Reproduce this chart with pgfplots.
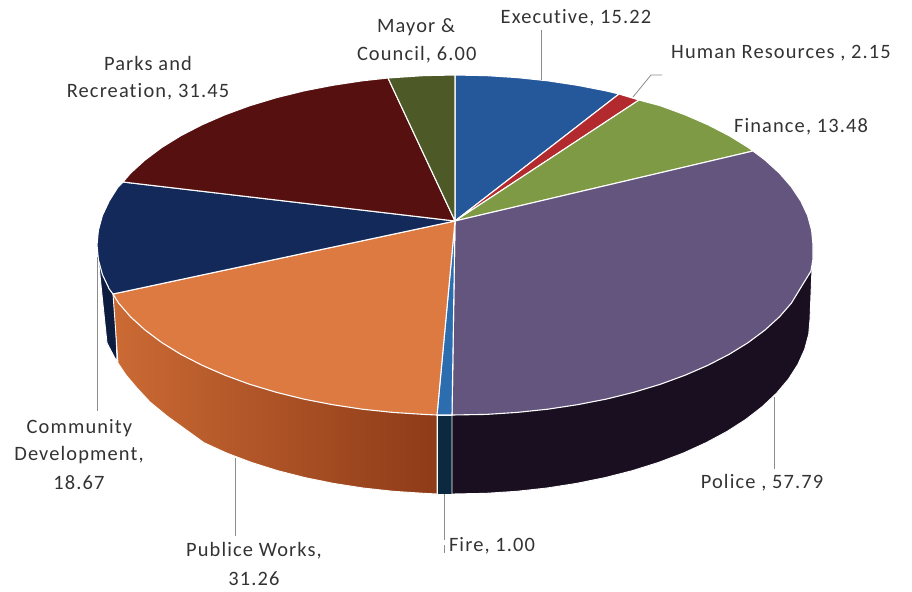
\documentclass[border=0pt]{standalone}
\usepackage{pgfplots}
\pgfplotsset{compat=1.18}
\usepackage{fontspec}
\setmainfont[LetterSpace=5.5,Ligatures=NoCommon]{Carlito}
\definecolor{cExec}{HTML}{25589A}
\definecolor{cHR}{HTML}{B32A2E}
\definecolor{cFin}{HTML}{7F9A44}
\definecolor{cPol}{HTML}{64557F}
\definecolor{cFire}{HTML}{2C6DB0}
\definecolor{cPub}{HTML}{DC7A42}
\definecolor{cCom}{HTML}{13295A}
\definecolor{cPar}{HTML}{561010}
\definecolor{cMay}{HTML}{4D5A27}
\definecolor{cPolS}{HTML}{190F20}
\definecolor{cFireS}{HTML}{0B2A40}
\definecolor{cPubL}{HTML}{CB6A34}
\definecolor{cPubR}{HTML}{8E3B18}
\definecolor{lead}{HTML}{8C8C8C}
\definecolor{txt}{HTML}{333333}
\tikzset{
  lab/.style={font=\fontsize{20.5}{24}\selectfont, text=txt, align=center, inner sep=0pt},
  slice/.style={draw=white, line width=1.1pt, line join=round},
  side/.style={draw=white, line width=0.9pt, line join=round},
  leader/.style={draw=lead, line width=0.8pt},
}
\begin{document}
\begin{tikzpicture}
\begin{axis}[
  scale only axis, width=912bp, height=592bp,
  xmin=0, xmax=912, ymin=0, ymax=592, y dir=reverse,
  hide axis, clip=false,
]
\path (axis cs:0,0) rectangle (axis cs:912,592);
% sides
\addplot[side, fill=cCom!70!black] coordinates {(97,245)(101,285)(107,343)(117,362)(115,300)(113,294)(97,245)};
\addplot[side, left color=cPubL, right color=cPubR] coordinates {(437,415)(113,294)(118,363)(126,375)(137,388)(150,402)(167,416)(185,429)(204,442.7)(226.8,453.1)(251.4,462.4)(277.5,470.6)(305,477.6)(333.6,483.4)(363.1,488)(393.4,491.3)(424,493.3)(437,494)(437,415)};
\addplot[side, fill=cFireS] coordinates {(437,415)(437,494)(452,494)(452,415)(437,415)};
\addplot[side, fill=cPolS] coordinates {(452,415)(452,494)(486,493.3)(516.6,491.3)(546.9,488)(576.4,483.4)(605,477.6)(632.5,470.6)(658.6,462.4)(683.2,453.1)(706,442.7)(726.9,431.5)(745.8,419.4)(762.4,406.5)(776.7,393)(788.6,378.9)(797.9,364.3)(804.6,349.4)(808.7,334.3)(810,319)(812,268)(452,415)};
% top surface
\addplot[slice, fill=cExec] coordinates {(455,221)(455,75)(486.2,75.6)(517.2,77.6)(547.7,80.8)(577.4,85.3)(606.3,90.9)(619,94)(455,221)};
\addplot[slice, fill=cHR] coordinates {(455,221)(619,94)(639,100)(455,221)};
\addplot[slice, fill=cFin] coordinates {(455,221)(639,100)(660.3,105.7)(685.1,114.8)(708.1,124.8)(729.2,135.7)(748.3,147.5)(753,151)(455,221)};
\addplot[slice, fill=cPol] coordinates {(455,221)(753,151)(765,160)(779.5,173.2)(791.4,186.9)(800.8,201)(807.6,215.5)(811.6,230.2)(813,245)(813,259)(811,271)(803,284)(791.4,303.1)(779.5,316.8)(765,330)(748.3,342.5)(729.2,354.3)(708.1,365.2)(685.1,375.2)(660.3,384.3)(634,392.2)(606.3,399.1)(577.4,404.7)(547.7,409.2)(517.2,412.4)(486.2,414.4)(452,415)(455,221)};
\addplot[slice, fill=cFire] coordinates {(455,221)(452,415)(437,415)(455,221)};
\addplot[slice, fill=cPub] coordinates {(455,221)(437,415)(423.8,414.4)(392.8,412.4)(362.3,409.2)(332.6,404.7)(303.7,399.1)(276,392.2)(249.7,384.3)(224.9,375.2)(201.9,365.2)(180.8,354.3)(161.7,342.5)(145,330)(130.5,316.8)(118.6,303.1)(113,294)(455,221)};
\addplot[slice, fill=cCom] coordinates {(455,221)(113,294)(109.2,289)(102.4,274.5)(98.4,259.8)(97,245)(98.4,230.2)(102.4,215.5)(109.2,201)(118,187)(123,182)(455,221)};
\addplot[slice, fill=cPar] coordinates {(455,221)(123,182)(130.5,173.2)(145,160)(161.7,147.5)(180.8,135.7)(201.9,124.8)(224.9,114.8)(249.7,105.7)(276,97.8)(303.7,90.9)(332.6,85.3)(362.3,80.8)(388,78)(455,221)};
\addplot[slice, fill=cMay] coordinates {(455,221)(388,78)(423.8,75.6)(455,75)(455,221)};
% leader lines
\addplot[leader] coordinates {(541,30)(541,80)};
\addplot[leader] coordinates {(633,97)(651,75)(662,75)};
\addplot[leader] coordinates {(97,257)(97,411)};
\addplot[leader] coordinates {(235.7,458)(235.7,536)};
\addplot[leader] coordinates {(444,494)(444,540)};
\addplot[leader] coordinates {(444,545)(444,553)};
\addplot[leader] coordinates {(774,397)(774,469)};
% labels
\node[lab] at (axis cs:576,18) {Executive, 15.22};
\node[lab] at (axis cs:416,26.7) {Mayor \&};
\node[lab] at (axis cs:416.7,55) {Council, 6.00};
\node[lab] at (axis cs:781,53) {Human Resources , 2.15};
\node[lab] at (axis cs:801,127) {Finance, 13.48};
\node[lab] at (axis cs:148,63) {Parks and};
\node[lab] at (axis cs:148,92) {Recreation, 31.45};
\node[lab] at (axis cs:79.5,428) {Community};
\node[lab] at (axis cs:79,455) {Development,};
\node[lab] at (axis cs:79,483) {18.67};
\node[lab] at (axis cs:254,551) {Publice Works,};
\node[lab] at (axis cs:254,579) {31.26};
\node[lab] at (axis cs:492,546) {Fire, 1.00};
\node[lab] at (axis cs:762,483) {Police , 57.79};
\end{axis}
\end{tikzpicture}
\end{document}
